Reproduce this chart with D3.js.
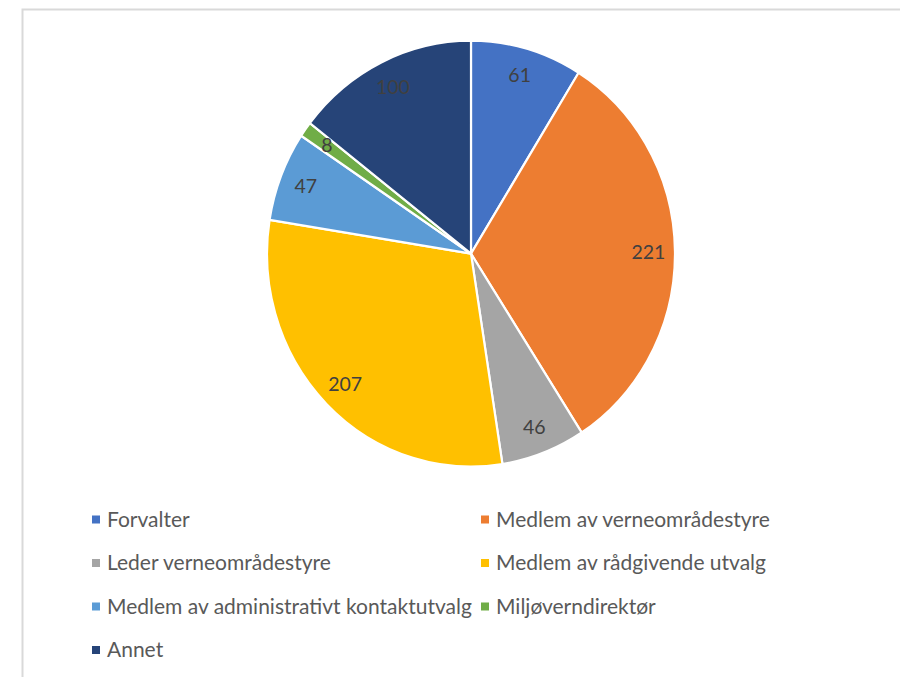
<!DOCTYPE html>
<html>
<head>
<meta charset="utf-8">
<script src="https://cdn.jsdelivr.net/npm/d3@7"></script>
<style>
  body { margin: 0; background: #fff; }
  svg { display: block; }
</style>
</head>
<body>
<div id="chart"></div>
<script>
var categories = ["Forvalter", "Medlem av verneområdestyre", "Leder verneområdestyre",
    "Medlem av rådgivende utvalg", "Medlem av administrativt kontaktutvalg",
    "Miljøverndirektør", "Annet"];
var values = [61, 221, 46, 207, 47, 8, 100];
var colors = ["#4472C4", "#ED7D31", "#A5A5A5", "#FFC000", "#5B9BD5", "#70AD47", "#264478"];

var data = categories.map(function(c, i) {
    return { name: c, value: values[i], color: colors[i] };
});

var width = 900, height = 677;
var svg = d3.select("#chart").append("svg")
    .attr("width", width)
    .attr("height", height);

// chart area frame (only top/left visible in the crop)
svg.append("rect")
    .attr("x", 22.5).attr("y", 9.5)
    .attr("width", 1000).attr("height", 1000)
    .attr("fill", "none")
    .attr("stroke", "#d9d9d9")
    .attr("stroke-width", 2);

var radius = 204;
var pie = d3.pie().sort(null).value(function(d) { return d.value; });
var arc = d3.arc().innerRadius(0).outerRadius(radius);
var labelArc = d3.arc().innerRadius(radius * 0.87).outerRadius(radius * 0.87);

// the picture is slightly taller than wide
var g = svg.append("g")
    .attr("transform", "translate(471,253.7) scale(1,1.044)");

var arcs = pie(data);

g.selectAll("path")
    .data(arcs)
    .enter().append("path")
    .attr("d", arc)
    .attr("fill", function(d) { return d.data.color; })
    .attr("stroke", "#fff")
    .attr("stroke-width", 2.2)
    .attr("stroke-linejoin", "round");

svg.selectAll(".label")
    .data(arcs)
    .enter().append("text")
    .attr("class", "label")
    .attr("x", function(d) { return 471 + labelArc.centroid(d)[0]; })
    .attr("y", function(d) { return 253.7 + labelArc.centroid(d)[1] * 1.044; })
    .attr("text-anchor", "middle")
    .attr("dy", "0.35em")
    .attr("fill", "#404040")
    .style("font-family", "Lato, 'Open Sans', sans-serif")
    .style("font-size", "19.5px")
    .text(function(d) { return d.data.value; });

// legend, two columns
var colX = d3.scaleOrdinal().domain([0, 1]).range([92, 481]);
var rowY = d3.scaleLinear().domain([0, 3]).range([519.5, 650]);

var leg = svg.selectAll(".legend")
    .data(data)
    .enter().append("g")
    .attr("class", "legend")
    .attr("transform", function(d, i) {
        return "translate(" + colX(i % 2) + "," + rowY(Math.floor(i / 2)) + ")";
    });

leg.append("rect")
    .attr("x", 0).attr("y", -4)
    .attr("width", 8).attr("height", 8)
    .attr("fill", function(d) { return d.color; });

leg.append("text")
    .attr("x", 15)
    .attr("dy", "0.35em")
    .attr("fill", "#595959")
    .style("font-family", "Lato, 'Open Sans', sans-serif")
    .style("font-size", "21px")
    .text(function(d) { return d.name; });
</script>
</body>
</html>
